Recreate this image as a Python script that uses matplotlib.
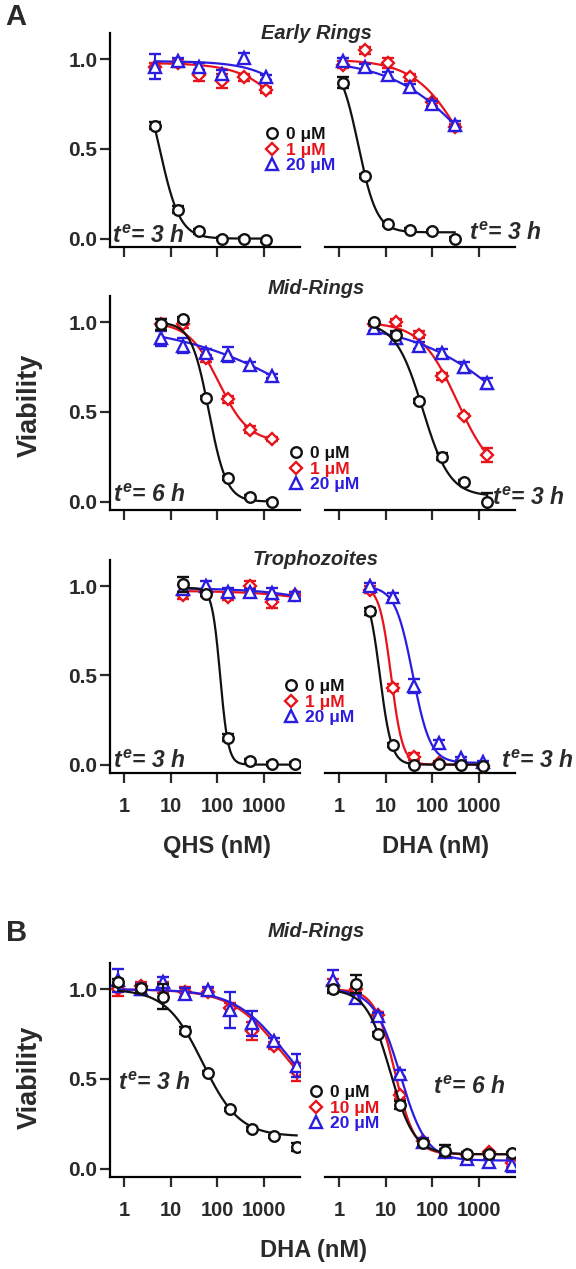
import numpy as np
import matplotlib.pyplot as plt
from matplotlib.lines import Line2D

plt.rcParams['font.family'] = ['Liberation Sans', 'DejaVu Sans']
plt.rcParams['font.weight'] = 'bold'
plt.rcParams['mathtext.fontset'] = 'custom'
plt.rcParams['mathtext.it'] = 'Liberation Sans:italic:bold'
plt.rcParams['mathtext.rm'] = 'Liberation Sans:bold'

RED = '#e8141c'
BLUE = '#2b1de0'
BLACK = '#111111'
TXT = '#2a2a2a'

# ---- data: concentrations (nM), viability, sem, Hill fits (top, bottom, ic50, slope)
# A, Early rings, QHS
er_qhs_x = [4.6, 14, 41, 123, 370, 1110]
er_qhs_0 = [0.63, 0.16, 0.04, 0.0, 0.0, -0.01]
er_qhs_0_err = [0.02, 0.02, 0.015, 0.01, 0.01, 0.01]
er_qhs_1 = [0.96, 0.98, 0.91, 0.88, 0.90, 0.83]
er_qhs_1_err = [0.02, 0.02, 0.03, 0.04, 0.02, 0.015]
er_qhs_20 = [0.96, 0.99, 0.96, 0.92, 1.01, 0.90]
er_qhs_20_err = [0.07, 0.02, 0.02, 0.02, 0.025, 0.015]
er_qhs_fits = [(1.0, 0.0, 5.8, 2.0), (0.98, 0.0, 9500, 0.8), (0.99, 0.0, 23000, 0.8)]

# A, Early rings, DHA
er_dha_x = [1.2, 3.6, 11, 33, 100, 300]
er_dha_0 = [0.87, 0.35, 0.08, 0.05, 0.04, 0.0]
er_dha_0_err = [0.03, 0.01, 0.01, 0.01, 0.01, 0.01]
er_dha_1 = [0.97, 1.05, 0.98, 0.90, 0.76, 0.62]
er_dha_1_err = [0.02, 0.02, 0.03, 0.02, 0.02, 0.02]
er_dha_20 = [0.99, 0.955, 0.91, 0.845, 0.75, 0.635]
er_dha_20_err = [0.02, 0.02, 0.02, 0.02, 0.02, 0.02]
er_dha_fits = [(1.0, 0.035, 2.6, 2.2), (1.0, 0.0, 584, 0.8), (1.0, 0.0, 907, 0.5)]

# A, Mid rings, QHS
mr_qhs_x = [6.2, 18.5, 56, 167, 500, 1500]
mr_qhs_0 = [0.99, 1.02, 0.58, 0.13, 0.025, 0.0]
mr_qhs_0_err = [0.03, 0.01, 0.01, 0.01, 0.01, 0.01]
mr_qhs_1 = [0.99, 0.99, 0.80, 0.57, 0.40, 0.35]
mr_qhs_1_err = [0.03, 0.02, 0.02, 0.02, 0.02, 0.01]
mr_qhs_20 = [0.91, 0.87, 0.83, 0.82, 0.76, 0.70]
mr_qhs_20_err = [0.04, 0.04, 0.02, 0.04, 0.02, 0.01]
mr_qhs_fits = [(1.0, 0.0, 66, 2.3), (1.0, 0.33, 107, 1.35), (1.0, 0.0, 27800, 0.29)]

# A, Mid rings, DHA
mr_dha_x = [5.6, 17, 52, 160, 480, 1500]
mr_dha_0 = [1.0, 0.93, 0.56, 0.25, 0.11, 0.0]
mr_dha_0_err = [0.01, 0.02, 0.01, 0.02, 0.01, 0.05]
mr_dha_1 = [0.99, 1.0, 0.93, 0.70, 0.48, 0.26]
mr_dha_1_err = [0.01, 0.02, 0.02, 0.02, 0.01, 0.04]
mr_dha_20 = [0.97, 0.91, 0.87, 0.83, 0.75, 0.66]
mr_dha_20_err = [0.02, 0.03, 0.02, 0.02, 0.03, 0.03]
mr_dha_fits = [(1.0, 0.03, 62, 1.5), (1.0, 0.12, 340, 1.1), (1.0, 0.0, 7890, 0.4)]

# A, Trophozoites, QHS
tr_qhs_x = [18.5, 56, 167, 500, 1500, 4500]
tr_qhs_0 = [1.01, 0.955, 0.15, 0.02, 0.005, 0.005]
tr_qhs_0_err = [0.04, 0.01, 0.02, 0.01, 0.01, 0.01]
tr_qhs_1 = [0.95, 0.965, 0.94, 1.0, 0.91, 0.95]
tr_qhs_1_err = [0.02, 0.02, 0.02, 0.03, 0.03, 0.02]
tr_qhs_20 = [0.985, 1.0, 0.97, 0.965, 0.96, 0.95]
tr_qhs_20_err = [0.02, 0.03, 0.02, 0.02, 0.03, 0.02]
tr_qhs_fits = [(0.99, 0.0, 115, 5.0), (0.975, 0.0, 3e6, 0.5), (0.99, 0.0, 2e6, 0.5)]

# A, Trophozoites, DHA
tr_dha_x = [4.6, 14, 41, 137, 410, 1230]
tr_dha_0 = [0.86, 0.11, 0.0, 0.005, 0.0, -0.005]
tr_dha_0_err = [0.02, 0.01, 0.01, 0.01, 0.01, 0.01]
tr_dha_1 = [0.98, 0.43, 0.045, 0.01, 0.0, -0.01]
tr_dha_1_err = [0.02, 0.02, 0.02, 0.01, 0.01, 0.01]
tr_dha_20 = [1.0, 0.94, 0.44, 0.12, 0.035, 0.012]
tr_dha_20_err = [0.02, 0.02, 0.04, 0.02, 0.01, 0.01]
tr_dha_fits = [(1.0, 0.0, 7.5, 3.5), (1.0, 0.0, 13, 3.5), (1.0, 0.01, 38, 2.3)]

# B, Mid rings, DHA at te = 3 h and 6 h
b_x = [0.76, 2.3, 6.9, 20.6, 62, 185, 556, 1667, 5000]
b3_0 = [1.04, 1.005, 0.96, 0.77, 0.535, 0.33, 0.22, 0.18, 0.12]
b3_0_err = [0.02, 0.02, 0.07, 0.02, 0.01, 0.01, 0.01, 0.01, 0.02]
b3_10 = [1.0, 1.02, 1.01, 0.985, 0.985, 0.895, 0.77, 0.685, 0.54]
b3_10_err = [0.035, 0.02, 0.03, 0.03, 0.02, 0.03, 0.05, 0.02, 0.05]
b3_20 = [1.05, 1.0, 1.04, 0.975, 0.995, 0.885, 0.81, 0.71, 0.575]
b3_20_err = [0.065, 0.03, 0.03, 0.03, 0.02, 0.1, 0.07, 0.02, 0.065]
b3_fits = [(1.0, 0.18, 48.5, 1.1), (1.0, 0.3, 2400, 0.8), (1.0, 0.3, 2800, 0.8)]

b6_0 = [1.0, 1.03, 0.75, 0.355, 0.145, 0.10, 0.08, 0.08, 0.085]
b6_0_err = [0.02, 0.05, 0.01, 0.02, 0.01, 0.03, 0.01, 0.01, 0.01]
b6_10 = [1.025, 1.0, 0.855, 0.41, 0.155, 0.09, 0.075, 0.09, 0.03]
b6_10_err = [0.03, 0.02, 0.02, 0.02, 0.01, 0.01, 0.01, 0.01, 0.02]
b6_20 = [1.05, 0.95, 0.85, 0.53, 0.15, 0.09, 0.055, 0.035, 0.02]
b6_20_err = [0.06, 0.02, 0.02, 0.02, 0.02, 0.02, 0.02, 0.02, 0.04]
b6_fits = [(1.0, 0.08, 12.5, 1.68), (1.0, 0.08, 15.7, 2.04), (1.0, 0.045, 20.5, 1.55)]

xticks = [1, 10, 100, 1000]
yticks = [0.0, 0.5, 1.0]


def hill(x, top, bottom, ic50, h):
    return bottom + (top - bottom) / (1 + (x / ic50) ** h)


W, H = 576, 1269
fig = plt.figure(figsize=(W / 100, H / 100), dpi=100)


def add_ax(left, top, right, bottom):
    return fig.add_axes([left / W, 1 - bottom / H, (right - left) / W, (bottom - top) / H])


def style_ax(ax, show_y, show_x):
    ax.set_xscale('log')
    ax.set_xlim(0.5, 5900)
    ax.set_ylim(-0.047, 1.147)
    ax.set_xticks(xticks)
    ax.xaxis.set_minor_locator(plt.NullLocator())
    ax.set_yticks(yticks)
    ax.spines['top'].set_visible(False)
    ax.spines['right'].set_visible(False)
    ax.spines['bottom'].set_linewidth(1.6)
    ax.spines['left'].set_linewidth(1.6)
    ax.tick_params(direction='out', length=7, width=1.6, colors=TXT)
    ax.tick_params(axis='x', pad=10, labelsize=14.5)
    ax.tick_params(axis='y', pad=2, labelsize=15)
    if show_x:
        ax.set_xticklabels([str(t) for t in xticks])
    else:
        ax.set_xticklabels([])
    if show_y:
        ax.set_yticklabels(['%.1f' % t for t in yticks])
    else:
        ax.spines['left'].set_visible(False)
        ax.tick_params(axis='y', left=False, labelleft=False)
    for lab in ax.get_xticklabels() + ax.get_yticklabels():
        lab.set_fontweight('bold')


def draw(ax, x, ys, errs, fits):
    styles = [(RED, 'D', 6.5), (BLUE, '^', 8), (BLACK, 'o', 7.6)]
    order = [1, 2, 0]  # red, blue, black on top
    for k, idx in enumerate(order):
        c, m, ms = styles[k]
        xf = np.logspace(np.log10(x[0]), np.log10(x[-1]), 200)
        ax.plot(xf, hill(xf, *fits[idx]), color=c, lw=1.6, zorder=2 + k)
        ax.errorbar(x, ys[idx], yerr=errs[idx], fmt=m, color=c, mfc='white', mec=c,
                    ms=ms, mew=1.7, capsize=4.5, elinewidth=1.5, capthick=1.6,
                    zorder=2.5 + k)


def te_label(ax, x, y, hours):
    ax.text(x, y, r'$t^e$= %d h' % hours, transform=ax.transAxes, ha='left', va='center',
            fontsize=16.5, fontweight='bold', fontstyle='italic', color=TXT, zorder=10)


def legend(cx, cy, labels):
    handles = [Line2D([], [], ls='none', marker='o', ms=7.6, mfc='white', mec=BLACK, mew=1.7),
               Line2D([], [], ls='none', marker='D', ms=6.5, mfc='white', mec=RED, mew=1.7),
               Line2D([], [], ls='none', marker='^', ms=8, mfc='white', mec=BLUE, mew=1.7)]
    fig.legend(handles, labels, loc='center left', bbox_to_anchor=((cx - 8) / W, 1 - cy / H),
               frameon=False, handlelength=1.0, handletextpad=0.3,
               labelspacing=0.0, borderpad=0, borderaxespad=0,
               labelcolor=[BLACK, RED, BLUE], prop={'weight': 'bold', 'size': 12.5})


rows = [(33, 247), (296, 510), (560, 773)]
panels = [
    (er_qhs_x, [er_qhs_0, er_qhs_1, er_qhs_20], [er_qhs_0_err, er_qhs_1_err, er_qhs_20_err], er_qhs_fits,
     er_dha_x, [er_dha_0, er_dha_1, er_dha_20], [er_dha_0_err, er_dha_1_err, er_dha_20_err], er_dha_fits),
    (mr_qhs_x, [mr_qhs_0, mr_qhs_1, mr_qhs_20], [mr_qhs_0_err, mr_qhs_1_err, mr_qhs_20_err], mr_qhs_fits,
     mr_dha_x, [mr_dha_0, mr_dha_1, mr_dha_20], [mr_dha_0_err, mr_dha_1_err, mr_dha_20_err], mr_dha_fits),
    (tr_qhs_x, [tr_qhs_0, tr_qhs_1, tr_qhs_20], [tr_qhs_0_err, tr_qhs_1_err, tr_qhs_20_err], tr_qhs_fits,
     tr_dha_x, [tr_dha_0, tr_dha_1, tr_dha_20], [tr_dha_0_err, tr_dha_1_err, tr_dha_20_err], tr_dha_fits),
]
te_pos = [((0.01, 0.05, 3), (0.76, 0.065, 3)),
          ((0.015, 0.07, 6), (0.88, 0.056, 3)),
          ((0.015, 0.053, 3), (0.925, 0.053, 3))]

for r, (top, bot) in enumerate(rows):
    xl, ysl, el, fl, xr, ysr, er, fr = panels[r]
    axl = add_ax(110, top, 300, bot)
    axr = add_ax(325, top, 515, bot)
    style_ax(axl, True, r == 2)
    style_ax(axr, False, r == 2)
    draw(axl, xl, ysl, el, fl)
    draw(axr, xr, ysr, er, fr)
    (a, b, h1), (c, d, h2) = te_pos[r]
    te_label(axl, a, b, h1)
    te_label(axr, c, d, h2)

# panel B
axbl = add_ax(110, 963, 300, 1177)
axbr = add_ax(325, 963, 515, 1177)
style_ax(axbl, True, True)
style_ax(axbr, False, True)
draw(axbl, b_x, [b3_0, b3_10, b3_20], [b3_0_err, b3_10_err, b3_20_err], b3_fits)
draw(axbr, b_x, [b6_0, b6_10, b6_20], [b6_0_err, b6_10_err, b6_20_err], b6_fits)
te_label(axbl, 0.04, 0.438, 3)
te_label(axbr, 0.57, 0.42, 6)

# legends
legend(271, 150, ['0 \u03bcM', '1 \u03bcM', '20 \u03bcM'])
legend(295, 469, ['0 \u03bcM', '1 \u03bcM', '20 \u03bcM'])
legend(290, 702, ['0 \u03bcM', '1 \u03bcM', '20 \u03bcM'])
legend(315, 1108, ['0 \u03bcM', '10 \u03bcM', '20 \u03bcM'])

# titles and labels
for txt, yb in [('Early Rings', 39), ('Mid-Rings', 294), ('Trophozoites', 565), ('Mid-Rings', 937)]:
    fig.text(316 / W, 1 - yb / H, txt, ha='center', va='baseline', fontsize=14.5,
             fontweight='bold', fontstyle='italic', color=TXT)

fig.text(30 / W, 1 - 405 / H, 'Viability', rotation=90, ha='center', va='center',
         fontsize=19.5, fontweight='bold', color=TXT)
fig.text(30 / W, 1 - 1077 / H, 'Viability', rotation=90, ha='center', va='center',
         fontsize=19.5, fontweight='bold', color=TXT)
fig.text(217 / W, 1 - 847 / H, 'QHS (nM)', ha='center', va='center', fontsize=17,
         fontweight='bold', color=TXT)
fig.text(435 / W, 1 - 847 / H, 'DHA (nM)', ha='center', va='center', fontsize=17,
         fontweight='bold', color=TXT)
fig.text(313 / W, 1 - 1250 / H, 'DHA (nM)', ha='center', va='center', fontsize=17,
         fontweight='bold', color=TXT)
fig.text(16 / W, 1 - 17 / H, 'A', ha='center', va='center', fontsize=21, fontweight='bold', color=TXT)
fig.text(17 / W, 1 - 933 / H, 'B', ha='center', va='center', fontsize=21, fontweight='bold', color=TXT)

fig.savefig('out.png', dpi=100)
